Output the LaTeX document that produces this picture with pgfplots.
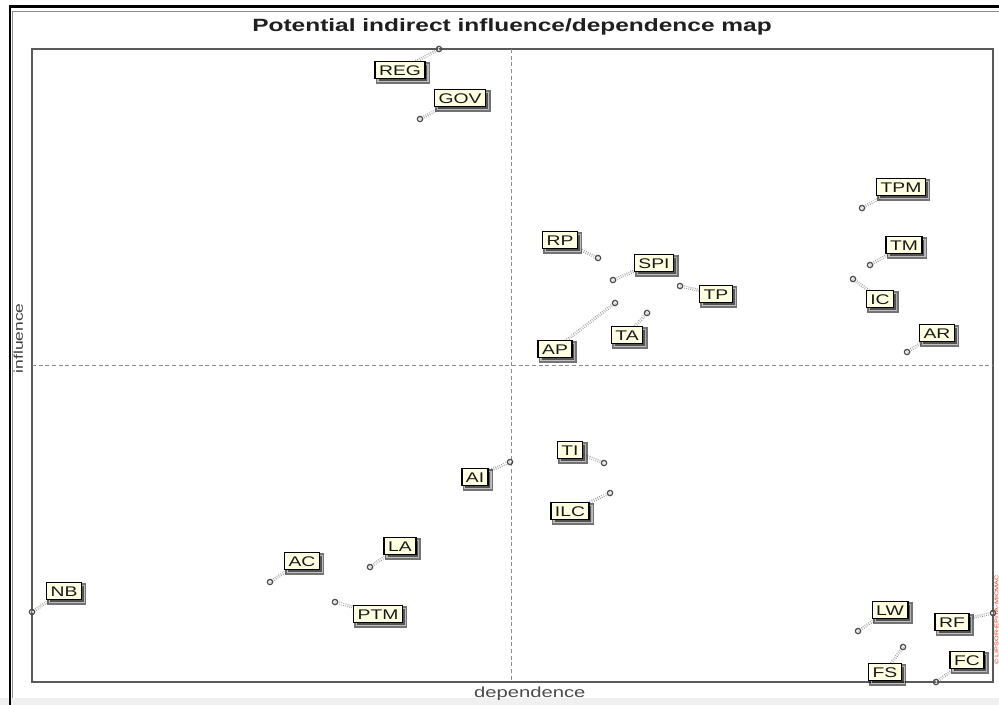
\documentclass[border=0pt]{standalone}
\usepackage{fontspec}
\setmainfont{Liberation Sans}[FakeStretch=1.38]
\usepackage{pgfplots}
\pgfplotsset{compat=1.18}
\usetikzlibrary{shadows}

\definecolor{boxfill}{RGB}{255,255,226}
\definecolor{axisgray}{RGB}{90,90,90}

\tikzset{
  link/.style={draw=black!45, densely dotted, line width=0.6pt, double=white, double distance=1pt},
  lbl/.style={solid, draw=black, line width=1.1pt, fill=boxfill, inner xsep=3pt, inner ysep=2.6pt,
    text height=7.5pt, text depth=0pt, font=\fontsize{10.5}{12}\selectfont, text=black!90,
    drop shadow={shadow xshift=2.2pt, shadow yshift=-2.2pt, fill=black!50, opacity=0.55}},
}

% one variable: marker position, label position, label
\newcommand{\var}[5]{%
  \addplot[link] coordinates {(#1,#2) (#3,#4)} node[pos=1, lbl] {#5};
}

\pgfplotstableread{
x    y
439  49
420  119
862  208
870  265
853  279
907  352
598  258
613  280
680  286
615  303
647  313
510  462
604  463
610  493
270  582
370  567
32   612
335  602
858  631
993  613
903  647
936  682
}\points

\begin{document}
\begin{tikzpicture}
\begin{scope}[x=0.75pt, y=-0.75pt]
  \useasboundingbox (0,0) rectangle (999,705);
  \fill[white] (0,0) rectangle (999,705);
  \fill[black!6] (0,698) rectangle (999,705);
  \draw[black!45, line width=0.8pt] (12.5,698) -- (12.5,11.5) -- (1000,11.5);
  \draw[black, line width=1.6pt] (10,706) -- (10,6.5) -- (1000,6.5);
  \node[rotate=90, text=red!65!orange, inner sep=0pt, font=\fontsize{4}{5}\selectfont] at (996.5,620) {© LIPSOR-EPITA-MICMAC};
\end{scope}

\begin{axis}[
  at={(24pt,-511.5pt)}, anchor=south west,
  scale only axis, width=720.75pt, height=474.75pt,
  xmin=32, xmax=993, ymin=49, ymax=682, y dir=reverse,
  xtick=\empty, ytick=\empty,
  axis line style={draw=axisgray, line width=1.1pt},
  clip=false,
  title={Potential indirect influence/dependence map},
  every axis title/.style={at={(axis description cs:0.4995,1.0284)}, anchor=base,
    font=\fontsize{13.3}{15}\selectfont\bfseries, text=black!88},
  xlabel={dependence},
  every axis x label/.style={at={(axis description cs:0.518,-0.0237)}, anchor=base,
    font=\fontsize{11}{13}\selectfont, text=black!70},
  ylabel={influence},
  every axis y label/.style={at={(axis description cs:-0.0094,0.543)}, rotate=90, anchor=base,
    font=\fontsize{9.5}{11}\selectfont, text=black!75},
]
% quadrant separators
\addplot[black!45, densely dashed, line width=0.6pt] coordinates {(511,49) (511,682)};
\addplot[black!45, densely dashed, line width=0.6pt] coordinates {(32,365) (993,365)};

\var{439}{49}{400}{70}{REG}
\var{420}{119}{460}{98}{GOV}
\var{862}{208}{901}{187}{TPM}
\var{870}{265}{904}{245}{TM}
\var{853}{279}{880}{299}{IC}
\var{907}{352}{937}{333}{AR}
\var{598}{258}{560}{240}{RP}
\var{613}{280}{654}{263}{SPI}
\var{680}{286}{716}{294}{TP}
\var{615}{303}{555}{349}{AP}
\var{647}{313}{627}{335}{TA}
\var{510}{462}{475}{477}{AI}
\var{604}{463}{570}{450}{TI}
\var{610}{493}{570}{511}{ILC}
\var{270}{582}{302}{561}{AC}
\var{370}{567}{400}{546}{LA}
\var{32}{612}{64}{591}{NB}
\var{335}{602}{378}{614}{PTM}
\var{858}{631}{890}{610}{LW}
\var{993}{613}{952}{622}{RF}
\var{903}{647}{885}{672}{FS}
\var{936}{682}{967}{660}{FC}

% variable positions
\addplot[only marks, mark=o, mark size=2pt,
  mark options={solid, draw=black!70, fill=white, line width=0.9pt}] table {\points};
\end{axis}
\end{tikzpicture}
\end{document}
